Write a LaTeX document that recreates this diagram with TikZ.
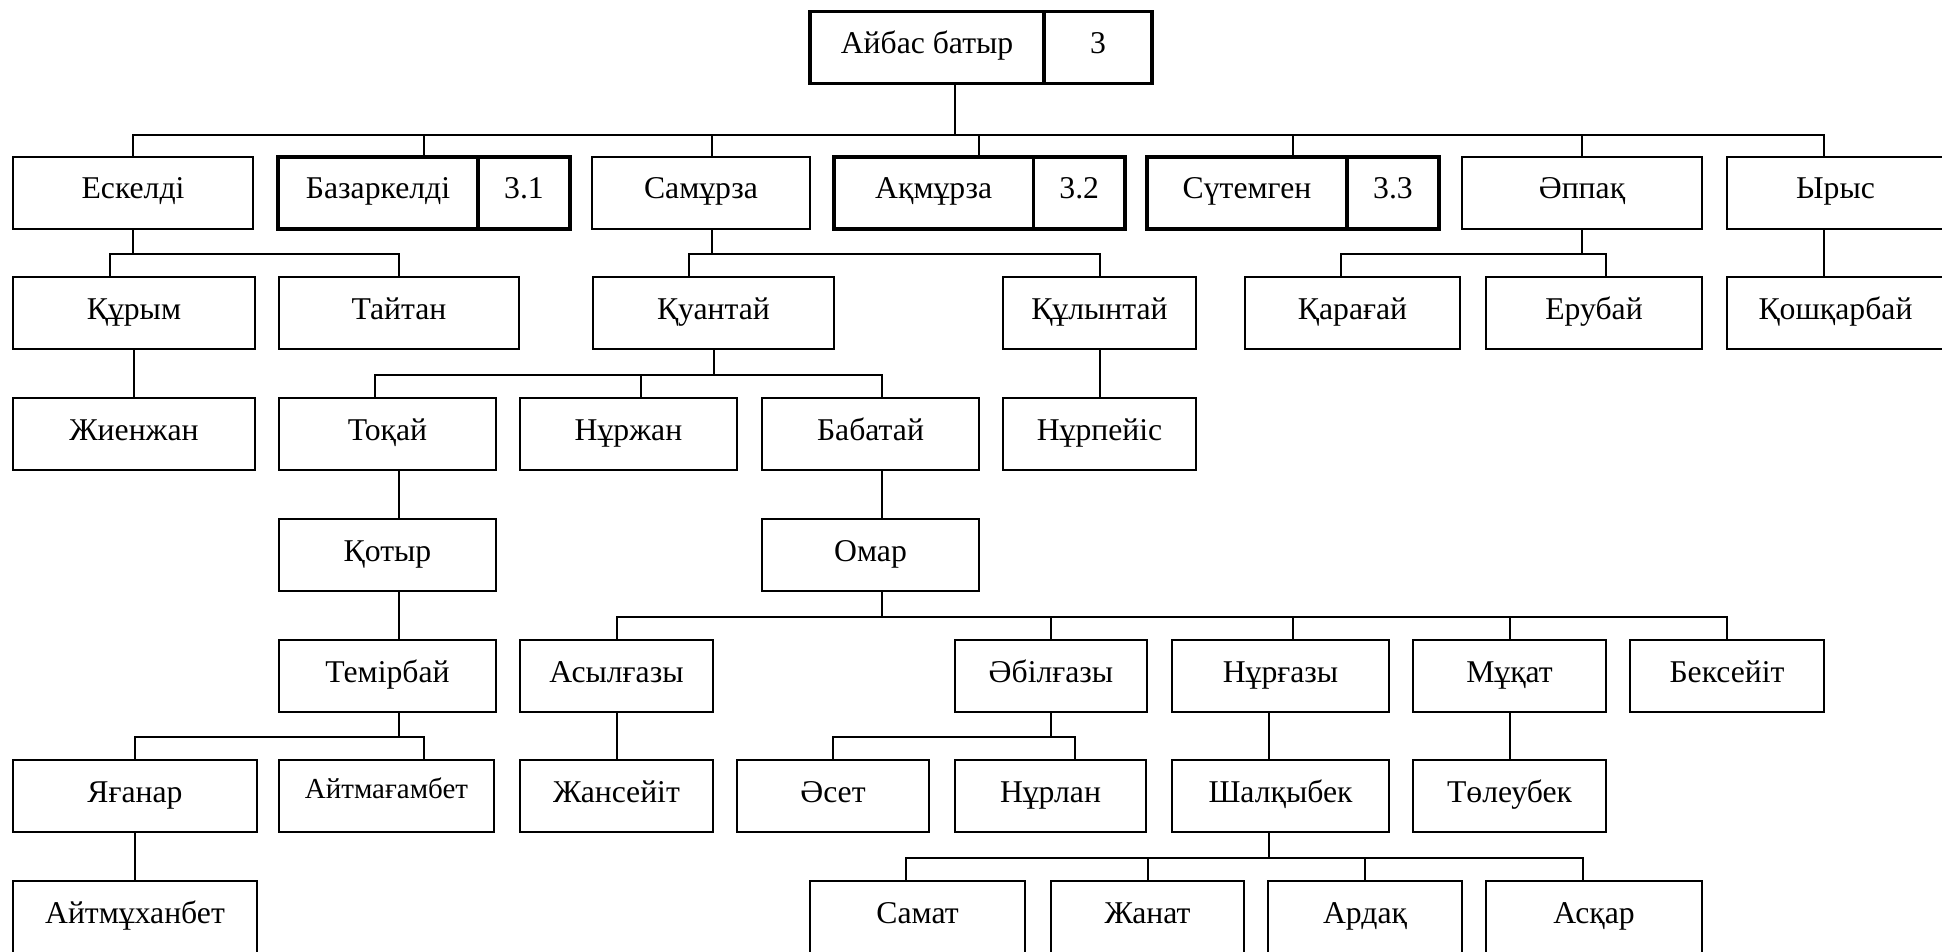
\documentclass[tikz,border=0pt]{standalone}
\usepackage{fontspec}
\setmainfont{Liberation Serif}

\begin{document}
\begin{tikzpicture}[x=1pt, y=-1pt,
  box/.style={draw, line width=1.3pt, minimum width=#1, minimum height=72pt, inner sep=0pt,
    text height=21pt, text depth=9pt, font=\fontsize{31.7}{38}\selectfont},
  thickbox/.style={box=#1, line width=3.5pt},
  link/.style={line width=2pt}]
  \useasboundingbox (0,0) rectangle (1942,952);

  \node[thickbox=234] (ajbas) at (927,47.5) {Айбас батыр};
  \node[thickbox=108] (ajbas-n) at (1098,47.5) {3};

  \node[box=240] (eskeldi) at (133,193) {Ескелді};
  \node[thickbox=200] (bazar) at (378,193) {Базаркелді};
  \node[thickbox=92] (bazar-n) at (524,193) {3.1};
  \node[box=218] (samurza) at (701,193) {Самұрза};
  \node[thickbox=199.5] (akmurza) at (933.75,193) {Ақмұрза};
  \node[thickbox=91.5] (akmurza-n) at (1079.25,193) {3.2};
  \node[thickbox=200] (sutemgen) at (1247,193) {Сүтемген};
  \node[thickbox=92] (sutemgen-n) at (1393,193) {3.3};
  \node[box=240] (appak) at (1582,193) {Әппақ};
  \node[box=217] (yrys) at (1835.5,193) {Ырыс};

  \node[box=242] (kurym) at (134,313) {Құрым};
  \node[box=240] (tajtan) at (399,313) {Тайтан};
  \node[box=241] (kuantaj) at (713.5,313) {Қуантай};
  \node[box=193] (kulyntaj) at (1099.5,313) {Құлынтай};
  \node[box=215] (karagaj) at (1352.5,313) {Қарағай};
  \node[box=216] (erubaj) at (1594,313) {Ерубай};
  \node[box=217] (koshkarbaj) at (1835.5,313) {Қошқарбай};

  \node[box=242] (zhienzhan) at (134,434) {Жиенжан};
  \node[box=217] (tokaj) at (387.5,434) {Тоқай};
  \node[box=217] (nurzhan) at (628.5,434) {Нұржан};
  \node[box=217] (babataj) at (870.5,434) {Бабатай};
  \node[box=193] (nurpejis) at (1099.5,434) {Нұрпейіс};

  \node[box=217] (kotyr) at (387.5,555) {Қотыр};
  \node[box=217] (omar) at (870.5,555) {Омар};

  \node[box=217] (temirbaj) at (387.5,676) {Темірбай};
  \node[box=193] (asylgazy) at (616.5,676) {Асылғазы};
  \node[box=192] (abilgazy) at (1051,676) {Әбілғазы};
  \node[box=217] (nurgazy) at (1280.5,676) {Нұрғазы};
  \node[box=193] (mukat) at (1509.5,676) {Мұқат};
  \node[box=194] (beksejit) at (1727,676) {Бексейіт};

  \node[box=244] (yaganar) at (135,796) {Яғанар};
  \node[box=215, text height=19pt, text depth=14pt, font=\fontsize{29}{35}\selectfont]
    (ajtmagambet) at (386.5,796) {Айтмағамбет};
  \node[box=193] (zhansejit) at (616.5,796) {Жансейіт};
  \node[box=192] (aset) at (833,796) {Әсет};
  \node[box=191] (nurlan) at (1050.5,796) {Нұрлан};
  \node[box=217] (shalkybek) at (1280.5,796) {Шалқыбек};
  \node[box=193] (toleubek) at (1509.5,796) {Төлеубек};

  \node[box=244] (ajtmukhanbet) at (135,917) {Айтмұханбет};
  \node[box=215] (samat) at (917.5,917) {Самат};
  \node[box=193] (zhanat) at (1147.5,917) {Жанат};
  \node[box=194] (ardak) at (1365,917) {Ардақ};
  \node[box=216] (askar) at (1594,917) {Асқар};

  \foreach \c/\dx in {eskeldi/0, bazar/46, samurza/11, akmurza/45, sutemgen/46, appak/0, yrys/-11.5}
    \draw[link] ([xshift=28]ajbas.south) -- ++(0,49.5) -| ([xshift=\dx]\c.north);

  \foreach \c/\dx in {kurym/-24, tajtan/0}
    \draw[link] (eskeldi.south) -- ++(0,24) -| ([xshift=\dx]\c.north);
  \foreach \c/\dx in {kuantaj/-24.5, kulyntaj/0}
    \draw[link] ([xshift=11]samurza.south) -- ++(0,24) -| ([xshift=\dx]\c.north);
  \foreach \c/\dx in {karagaj/-11.5, erubaj/12}
    \draw[link] (appak.south) -- ++(0,24) -| ([xshift=\dx]\c.north);
  \draw[link] ([xshift=-11.5]yrys.south) -- ([xshift=-11.5]koshkarbaj.north);

  \draw[link] (kurym.south) -- (zhienzhan.north);
  \foreach \c/\dx in {tokaj/-12.5, nurzhan/12.5, babataj/11.5}
    \draw[link] (kuantaj.south) -- ++(0,25) -| ([xshift=\dx]\c.north);
  \draw[link] (kulyntaj.south) -- (nurpejis.north);

  \draw[link] ([xshift=11.5]tokaj.south) -- ([xshift=11.5]kotyr.north);
  \draw[link] ([xshift=11.5]babataj.south) -- ([xshift=11.5]omar.north);
  \draw[link] ([xshift=11.5]kotyr.south) -- ([xshift=11.5]temirbaj.north);

  \foreach \c/\dx in {asylgazy/0, abilgazy/0, nurgazy/12.5, mukat/0, beksejit/0}
    \draw[link] ([xshift=11.5]omar.south) -- ++(0,25) -| ([xshift=\dx]\c.north);

  \foreach \c/\dx in {yaganar/0, ajtmagambet/37.5}
    \draw[link] ([xshift=11.5]temirbaj.south) -- ++(0,24.5) -| ([xshift=\dx]\c.north);
  \draw[link] (asylgazy.south) -- (zhansejit.north);
  \foreach \c/\dx in {aset/0, nurlan/24.5}
    \draw[link] (abilgazy.south) -- ++(0,24.5) -| ([xshift=\dx]\c.north);
  \draw[link] ([xshift=-11.5]nurgazy.south) -- ([xshift=-11.5]shalkybek.north);
  \draw[link] (mukat.south) -- (toleubek.north);

  \draw[link] (yaganar.south) -- (ajtmukhanbet.north);
  \foreach \c/\dx in {samat/-11.5, zhanat/0, ardak/0, askar/-11.5}
    \draw[link] ([xshift=-11.5]shalkybek.south) -- ++(0,25) -| ([xshift=\dx]\c.north);
\end{tikzpicture}
\end{document}
